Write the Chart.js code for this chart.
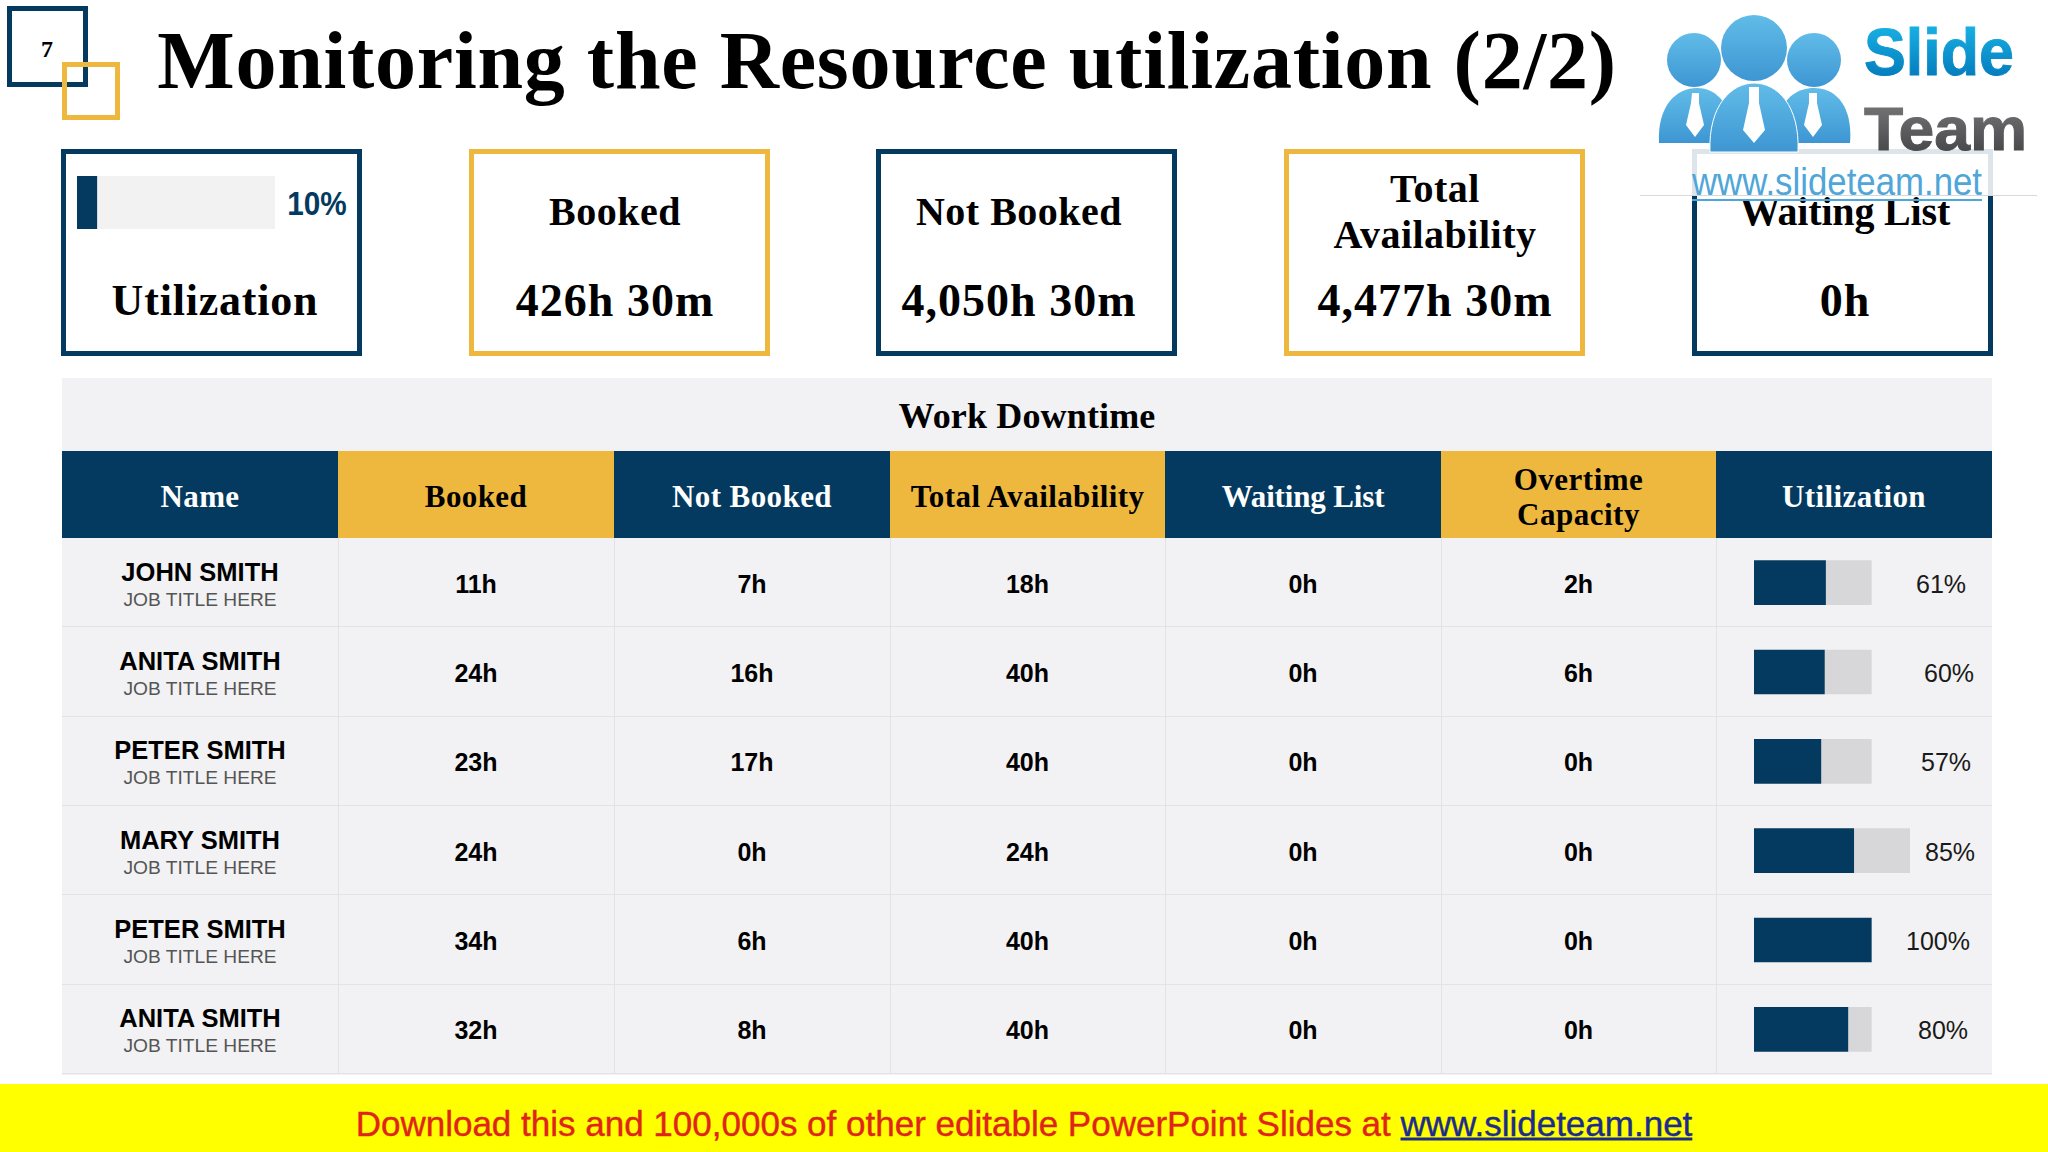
<!DOCTYPE html>
<html>
<head>
<meta charset="utf-8">
<title>Monitoring the Resource utilization (2/2)</title>
<script src="https://cdn.jsdelivr.net/npm/chart.js@4"></script>
<style>
  html, body { margin: 0; padding: 0; background: #fff; }
  #page { position: relative; width: 2048px; height: 1152px; overflow: hidden; background: #fff; }
  #page div, #page canvas, #page svg { position: absolute; }
  .t { white-space: nowrap; transform: translate(-50%, -50%); line-height: 1; }
  .serif { font-family: "Liberation Serif", serif; font-weight: bold; color: #000; }
  .sans { font-family: "Liberation Sans", Arial, sans-serif; color: #000; }
</style>
</head>
<body>
<div id="page"></div>
<script>
// table data
const names = ["JOHN SMITH", "ANITA SMITH", "PETER SMITH", "MARY SMITH", "PETER SMITH", "ANITA SMITH"];
const jobTitle = "JOB TITLE HERE";
const headers = ["Name", "Booked", "Not Booked", "Total Availability", "Waiting List", ["Overtime", "Capacity"], "Utilization"];
const booked = ["11h", "24h", "23h", "24h", "34h", "32h"];
const notBooked = ["7h", "16h", "17h", "0h", "6h", "8h"];
const totalAvailability = ["18h", "40h", "40h", "24h", "40h", "40h"];
const waitingList = ["0h", "0h", "0h", "0h", "0h", "0h"];
const overtime = ["2h", "6h", "0h", "0h", "0h", "0h"];
const utilization = [61, 60, 57, 85, 100, 80];
const trackRemainder = [39, 40, 43, 48, 0, 20];

// summary cards
const overallUtilization = [10];
const overallRemainder = [90];
const cardTitles = ["Utilization", "Booked", "Not Booked", ["Total", "Availability"], "Waiting List"];
const cardValues = ["", "426h 30m", "4,050h 30m", "4,477h 30m", "0h"];

const NAVY = "#043a5f";
const GOLD = "#eeb83f";
const page = document.getElementById("page");

function box(x, y, w, h, css) {
  const d = document.createElement("div");
  d.style.cssText = `left:${x}px;top:${y}px;width:${w}px;height:${h}px;box-sizing:border-box;` + (css || "");
  page.appendChild(d);
  return d;
}

function text(str, cx, cy, cls, size, css) {
  const d = document.createElement("div");
  d.className = "t " + cls;
  d.textContent = str;
  d.style.cssText = `left:${cx}px;top:${cy}px;font-size:${size}px;` + (css || "");
  page.appendChild(d);
  return d;
}

// page number squares + title
box(7, 6, 81, 81, `border:5px solid ${NAVY};`);
box(62, 62, 58, 58, `border:5px solid ${GOLD};`);
text("7", 47, 49, "serif", 24);
text("Monitoring the Resource utilization (2/2)", 887, 61, "serif", 82, "letter-spacing:.75px;");

// cards
const cardX = [61, 469, 876, 1284, 1692];
const cardCx = [215, 615, 1019, 1435, 1845];
for (let i = 0; i < cardX.length; i++) {
  box(cardX[i], 149, 301, 207, `border:5px solid ${i % 2 ? GOLD : NAVY};`);
  if (Array.isArray(cardTitles[i])) {
    text(cardTitles[i][0], cardCx[i], 189, "serif", 40, "letter-spacing:.5px;");
    text(cardTitles[i][1], cardCx[i], 235, "serif", 40, "letter-spacing:.5px;");
  } else if (i === 0) {
    text(cardTitles[i], cardCx[i], 301, "serif", 44, "letter-spacing:.8px;");
  } else {
    const sp = i === 4 ? -0.17 : 0.5;
    text(cardTitles[i], cardCx[i], 212, "serif", 40, `letter-spacing:${sp}px;`);
  }
  if (cardValues[i]) text(cardValues[i], cardCx[i], 301, "serif", 46, "letter-spacing:1px;");
}
text(overallUtilization[0] + "%", 317, 203, "sans", 33, `font-weight:bold;color:${NAVY};transform:translate(-50%,-50%) scaleX(.9);`);

// table
const colX = [62, 338, 614, 890, 1165, 1441, 1716, 1992];
const rowTop = 538, rowH = 89.33;
box(62, 378, 1930, 697, "background:#f2f1f3;");
text("Work Downtime", 1027, 416, "serif", 36, "letter-spacing:.15px;");
for (let c = 0; c < 7; c++) {
  const cx = (colX[c] + colX[c + 1]) / 2;
  const gold = c % 2 === 1;
  box(colX[c], 451, colX[c + 1] - colX[c], 87, `background:${gold ? GOLD : NAVY};`);
  const col = gold ? "#000" : "#fff";
  if (Array.isArray(headers[c])) {
    text(headers[c][0], cx, 479, "serif", 31, `color:${col};letter-spacing:.5px;`);
    text(headers[c][1], cx, 514, "serif", 31, `color:${col};letter-spacing:.5px;`);
  } else {
    const sp = c === 4 ? -0.15 : 0.4;
    text(headers[c], cx, 496, "serif", 31, `color:${col};letter-spacing:${sp}px;`);
  }
  if (c > 0) box(colX[c], rowTop, 1, rowH * 6, "background:#e3e2e6;");
}

const columns = [booked, notBooked, totalAvailability, waitingList, overtime];
const pctCx = [1941, 1949, 1946, 1950, 1938, 1943];
for (let r = 0; r < names.length; r++) {
  const cy = rowTop + rowH * (r + 0.5);
  box(62, rowTop + rowH * (r + 1) - 1, 1930, 1, "background:#e3e2e6;");
  text(names[r], 200, cy - 10, "sans", 25.5, "font-weight:bold;");
  text(jobTitle, 200, cy + 17, "sans", 19.2, "color:#555;");
  for (let c = 0; c < columns.length; c++) {
    text(columns[c][r], (colX[c + 1] + colX[c + 2]) / 2, cy + 1, "sans", 25, "font-weight:bold;");
  }
  text(utilization[r] + "%", pctCx[r], cy + 1, "sans", 25, "color:#1a1a1a;");
}

function barChart(x, y, w, h, labels, fill, rest, track, maxX, thick) {
  const cv = document.createElement("canvas");
  cv.width = w;
  cv.height = h;
  cv.style.cssText = `left:${x}px;top:${y}px;width:${w}px;height:${h}px;`;
  page.appendChild(cv);
  return new Chart(cv, {
    type: "bar",
    data: {
      labels: labels,
      datasets: [
        { label: "Utilization", data: fill, backgroundColor: NAVY, barThickness: thick },
        { label: "Remaining", data: rest, backgroundColor: track, barThickness: thick }
      ]
    },
    options: {
      indexAxis: "y",
      responsive: false,
      animation: false,
      devicePixelRatio: 1,
      layout: { padding: 0 },
      plugins: { legend: { display: false }, tooltip: { enabled: false } },
      scales: {
        x: { stacked: true, display: false, min: 0, max: maxX },
        y: { stacked: true, display: false }
      }
    }
  });
}

barChart(1754, rowTop, 156, 536, names, utilization, trackRemainder, "#d7d6d8", 133, 44);
barChart(77, 176, 198, 53, ["Utilization"], overallUtilization, overallRemainder, "#f2f2f2", 100, 53);

// logo sits over the top of the last card
const logo = document.createElementNS("http://www.w3.org/2000/svg", "svg");
logo.setAttribute("width", 400);
logo.setAttribute("height", 205);
logo.style.cssText = "left:1637px;top:0;";
logo.innerHTML = `
<defs>
  <linearGradient id="gs" x1="0" y1="0" x2="0" y2="1"><stop offset="0" stop-color="#1cbcec"/><stop offset="1" stop-color="#0070b4"/></linearGradient>
  <linearGradient id="gt" x1="0" y1="0" x2="0" y2="1"><stop offset="0" stop-color="#7d7d7f"/><stop offset="1" stop-color="#3f3f41"/></linearGradient>
  <linearGradient id="gp" x1="0" y1="0" x2="0" y2="1"><stop offset="0" stop-color="#62bce8"/><stop offset="1" stop-color="#3d96d2"/></linearGradient>
</defs>
<rect x="0" y="0" width="400" height="195" fill="#fff" fill-opacity="0.87"/>
<rect x="3" y="195" width="397" height="1" fill="#d9d9d9"/>
<g fill="url(#gp)">
  <circle cx="57" cy="60" r="27"/><circle cx="177" cy="60" r="27"/><circle cx="117" cy="48" r="33"/>
  <path d="M22 143 C20 105 40 88 60 88 C80 88 96 105 98 143 Z"/>
  <path d="M136 143 C138 105 155 88 177 88 C198 88 216 105 213 143 Z"/>
  <path d="M73 152 C71 105 95 83 117 83 C140 83 163 105 161 152 Z" stroke="#fff" stroke-width="1"/>
</g>
<g fill="#fff">
  <path d="M55 93 H62 V103 L67 125 L58 137 L49 125 L54 103 Z"/>
  <path d="M112 87 H122 V103 L128 130 L117 143 L106 130 L112 103 Z"/>
  <path d="M172 93 H180 V103 L185 125 L176 137 L167 125 L172 103 Z"/>
</g>
<text x="227" y="75" font-family="Liberation Sans" font-weight="bold" font-size="67" fill="url(#gs)" stroke="url(#gs)" stroke-width="1" textLength="150" lengthAdjust="spacingAndGlyphs">Slide</text>
<text x="227" y="150" font-family="Liberation Sans" font-weight="bold" font-size="62" fill="url(#gt)" stroke="url(#gt)" stroke-width="1" textLength="163" lengthAdjust="spacingAndGlyphs">Team</text>
<text x="55" y="195" font-family="Liberation Sans" font-size="38" fill="#4fa6d8" textLength="290" lengthAdjust="spacingAndGlyphs">www.slideteam.net</text>
<rect x="55" y="199" width="290" height="2" fill="#4fa6d8"/>`;
page.appendChild(logo);

// footer
box(0, 1084, 2048, 68, "background:#ffff00;");
const foot = text("", 1024, 1123, "sans", 35, "color:#e0241c;-webkit-text-stroke:.4px;");
foot.appendChild(document.createTextNode("Download this and 100,000s of other editable PowerPoint Slides at "));
const link = document.createElement("span");
link.textContent = "www.slideteam.net";
link.style.cssText = "color:#1c2c8e;text-decoration:underline;";
foot.appendChild(link);
</script>
</body>
</html>
